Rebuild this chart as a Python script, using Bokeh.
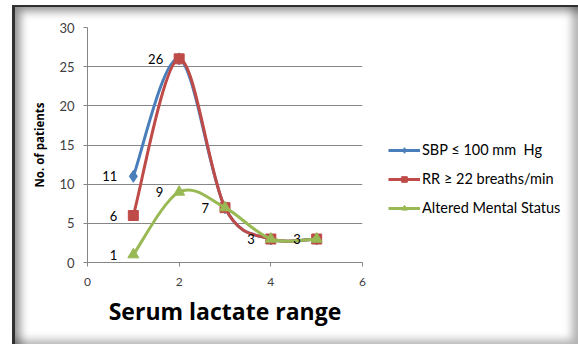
from bokeh.plotting import figure
from bokeh.layouts import row
from bokeh.models import ColumnDataSource, Legend, LegendItem, FixedTicker, Range1d
from bokeh.core.properties import value
from bokeh.embed import file_html
from bokeh.resources import INLINE

# ---- data ----
x_vals = [1, 2, 3, 4, 5]
sbp = [11, 26, 7, 3, 3]
rr = [6, 26, 7, 3, 3]
ams = [1, 9, 7, 3, 3]
series_names = ["SBP \u2264 100 mm  Hg", "RR \u2265 22 breaths/min", "Altered Mental Status"]
label_x = [1, 1, 1, 2, 2, 3, 4, 5]
label_y = [11, 6, 1, 26, 9, 7, 3, 3]
label_text = ["11", "6", "1", "26", "9", "7", "3", "3"]
x_ticks = [0, 2, 4, 6]
y_ticks = [0, 5, 10, 15, 20, 25, 30]

colors = ["#4A7EBB", "#BE4B48", "#98B954"]
markers = ["diamond", "square", "triangle"]
msizes = [12, 10, 11]
FONT = "Lato"
TFONT = "Open Sans"


def smooth_segments(xs, ys):
    """Bezier control points for a smoothed (Excel-like) line through the points."""
    n = len(xs)
    d = dict(x0=[], y0=[], x1=[], y1=[], cx0=[], cy0=[], cx1=[], cy1=[])
    for i in range(n - 1):
        ip = max(i - 1, 0)
        i2 = min(i + 2, n - 1)
        d["x0"].append(xs[i]); d["y0"].append(ys[i])
        d["x1"].append(xs[i + 1]); d["y1"].append(ys[i + 1])
        d["cx0"].append(xs[i] + (xs[i + 1] - xs[ip]) / 6)
        d["cy0"].append(ys[i] + (ys[i + 1] - ys[ip]) / 6)
        d["cx1"].append(xs[i + 1] - (xs[i2] - xs[i]) / 6)
        d["cy1"].append(ys[i + 1] - (ys[i2] - ys[i]) / 6)
    return d


p = figure(width=360, height=339, output_backend="svg", toolbar_location=None,
           x_range=Range1d(0, 6), y_range=Range1d(0, 30),
           min_border_left=75, min_border_right=10, min_border_top=22, min_border_bottom=82)
p.background_fill_color = "white"
p.border_fill_color = None
p.outline_line_color = None

# grid / axes
p.xgrid.grid_line_color = None
p.ygrid.grid_line_color = "#868686"
p.ygrid.grid_line_width = 1
p.xaxis.ticker = FixedTicker(ticks=x_ticks)
p.yaxis.ticker = FixedTicker(ticks=y_ticks)
for ax in (p.xaxis, p.yaxis):
    ax.axis_line_color = "#868686"
    ax.major_tick_line_color = "#868686"
    ax.minor_tick_line_color = None
    ax.major_tick_in = 0
    ax.major_tick_out = 4
    ax.major_label_text_font = FONT
    ax.major_label_text_color = "#404040"
    ax.axis_label_text_font = TFONT
    ax.axis_label_text_font_style = "bold"
    ax.axis_label_text_color = "#000000"
p.yaxis.major_label_text_font_size = "13px"
p.xaxis.major_label_text_font_size = "12px"
p.yaxis.major_label_standoff = 9
p.xaxis.major_label_standoff = 11
p.yaxis.axis_label = "No. of patients"
p.yaxis.axis_label_text_font_size = "11.5px"
p.yaxis.axis_label_standoff = 9
p.xaxis.axis_label = "Serum lactate range"
p.xaxis.axis_label_text_font_size = "23px"
p.xaxis.axis_label_standoff = 6

# legend figure
lf = figure(width=206, height=339, output_backend="svg", toolbar_location=None,
            x_range=Range1d(0, 1), y_range=Range1d(0, 1),
            min_border=0, x_axis_location=None, y_axis_location=None)
lf.grid.grid_line_color = None
lf.outline_line_color = None
lf.background_fill_alpha = 0
lf.border_fill_color = None

items = []
for name, ys, c, m, s in zip(series_names, [sbp, rr, ams], colors, markers, msizes):
    seg = ColumnDataSource(smooth_segments(x_vals, ys))
    p.bezier(x0="x0", y0="y0", x1="x1", y1="y1", cx0="cx0", cy0="cy0", cx1="cx1", cy1="cy1",
             source=seg, line_color=c, line_width=3)
    p.scatter(x=x_vals, y=ys, marker=m, size=s, fill_color=c, line_color=c)
    # legend-only renderers, placed far outside the legend panel's visible range
    lr = lf.line(x=[-100, -99], y=[-100, -99], line_color=c, line_width=3)
    sr = lf.scatter(x=[-100], y=[-100], marker=m, size=s - 2, fill_color=c, line_color=c)
    items.append(LegendItem(label=name, renderers=[lr, sr]))

# data labels
p.text(x=label_x, y=label_y, text=label_text, x_offset=-16, text_align="right",
       text_baseline="middle", text_font=value(FONT), text_font_size="13px", text_color="#000000")

legend = Legend(items=items, location=(16, 46), orientation="vertical",
                glyph_width=32, glyph_height=14, label_standoff=2, spacing=12,
                padding=0, margin=0, border_line_color=None, background_fill_alpha=0,
                label_text_font=FONT, label_text_font_size="14.5px", label_text_color="#000000")
lf.add_layout(legend, "center")

layout = row(p, lf, spacing=0)
layout.styles = {
    "margin-left": "12px",
    "margin-top": "5px",
    "background-color": "white",
    "box-shadow": ("inset 3px 2px 0 0 #303030, "
                   "inset 14px 12px 10px -6px rgba(0,0,0,0.45), "
                   "inset -10px -8px 8px -4px rgba(0,0,0,0.30)"),
}

open("out.html", "w").write(file_html(layout, INLINE))
